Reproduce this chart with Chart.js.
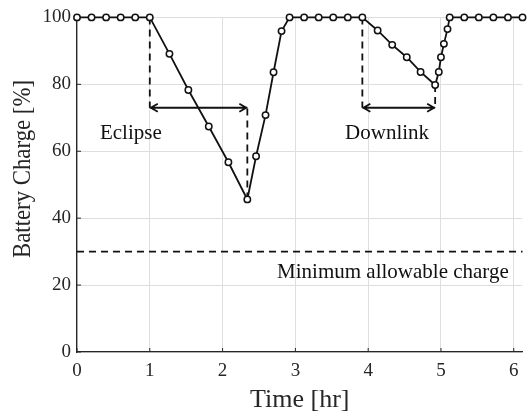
<!DOCTYPE html>
<html><head><meta charset="utf-8">
<script src="https://cdn.jsdelivr.net/npm/chart.js@4/dist/chart.umd.min.js"></script>
<style>html,body{margin:0;padding:0;background:#fff}#wrap{width:528px;height:415px}</style>
</head><body><div id="wrap"><canvas id="c" width="528" height="415"></canvas></div>
<script>
const timeHr = [0,0.2,0.4,0.6,0.8,1.0, 1.27,1.53,1.81,2.08,2.34, 2.46,2.59,2.70,2.81,2.92, 3.12,3.32,3.52,3.72,3.92, 4.13,4.33,4.53,4.72,4.92, 4.97,5.00,5.04,5.09,5.12, 5.32,5.52,5.72,5.92,6.12];
const chargePct = [100,100,100,100,100,100, 89.1,78.3,67.4,56.7,45.6, 58.5,70.8,83.6,95.9,100, 100,100,100,100,100, 96.1,91.8,88.1,83.7,79.8, 83.7,88.1,92.1,96.5,100, 100,100,100,100,100];
const xTickLabels = [0,1,2,3,4,5,6];
const yTickLabels = [0,20,40,60,80,100];
const minCharge = 30;
const eclipseSpan = [1.0, 2.34];
const downlinkSpan = [3.92, 4.92];
const spanLevel = 73;
const annotationTexts = [
  {text: 'Eclipse', x: 0.74, y: 65.3},
  {text: 'Downlink', x: 4.26, y: 65.3},
  {text: 'Minimum allowable charge', x: 4.34, y: 23.7}
];
const xTitle = 'Time [hr]';
const yTitle = 'Battery Charge [%]';

const FONT = '"Liberation Serif", "DejaVu Serif", serif';
const INK = '#111';

function chargeAt(t){
  const i = timeHr.indexOf(t);
  return chargePct[i];
}

const annot = {
  id: 'annot',
  beforeDatasetsDraw(chart){
    const {ctx, scales:{x, y}, chartArea:a} = chart;
    ctx.save();
    ctx.strokeStyle = INK;
    ctx.lineWidth = 1.8;
    ctx.setLineDash([7,5]);
    ctx.beginPath();
    ctx.moveTo(a.left, y.getPixelForValue(minCharge));
    ctx.lineTo(a.right, y.getPixelForValue(minCharge));
    ctx.stroke();
    [eclipseSpan, downlinkSpan].forEach(sp => {
      sp.forEach(t => {
        ctx.beginPath();
        ctx.moveTo(x.getPixelForValue(t), y.getPixelForValue(chargeAt(t)));
        ctx.lineTo(x.getPixelForValue(t), y.getPixelForValue(spanLevel));
        ctx.stroke();
      });
    });
    ctx.setLineDash([]);
    [eclipseSpan, downlinkSpan].forEach(sp => {
      const x0 = x.getPixelForValue(sp[0]), x1 = x.getPixelForValue(sp[1]);
      const yy = y.getPixelForValue(spanLevel);
      ctx.beginPath();
      ctx.moveTo(x0, yy); ctx.lineTo(x1, yy);
      ctx.moveTo(x0+8, yy-4); ctx.lineTo(x0+1, yy); ctx.lineTo(x0+8, yy+4);
      ctx.moveTo(x1-8, yy-4); ctx.lineTo(x1-1, yy); ctx.lineTo(x1-8, yy+4);
      ctx.stroke();
    });
    ctx.lineWidth = 1;
    ctx.strokeStyle = '#262626';
    x.ticks.forEach(tk => {
      const px = x.getPixelForValue(tk.value);
      ctx.beginPath(); ctx.moveTo(px, a.bottom); ctx.lineTo(px, a.bottom-4); ctx.stroke();
    });
    y.ticks.forEach(tk => {
      const py = y.getPixelForValue(tk.value);
      ctx.beginPath(); ctx.moveTo(a.left, py); ctx.lineTo(a.left+4, py); ctx.stroke();
    });
    ctx.fillStyle = INK;
    ctx.font = '21px ' + FONT;
    ctx.textAlign = 'center';
    ctx.textBaseline = 'middle';
    annotationTexts.forEach(t => {
      ctx.fillText(t.text, x.getPixelForValue(t.x), y.getPixelForValue(t.y));
    });
    ctx.restore();
  },
  afterDraw(chart){
    const {ctx, chartArea:a} = chart;
    ctx.save();
    ctx.fillStyle = '#262626';
    ctx.font = '26px ' + FONT;
    ctx.textAlign = 'center';
    ctx.textBaseline = 'middle';
    ctx.fillText(xTitle, (a.left + a.right)/2, 400);
    ctx.translate(23, 169);
    ctx.rotate(-Math.PI/2);
    ctx.fillText(yTitle, 0, 0, 178);
    ctx.restore();
  }
};

new Chart(document.getElementById('c'), {
  type: 'scatter',
  data: {
    datasets: [{
      data: timeHr.map((t,i) => ({x: t, y: chargePct[i]})),
      showLine: true,
      borderColor: INK,
      borderWidth: 1.8,
      pointRadius: 3.2,
      pointBorderWidth: 1.5,
      pointBackgroundColor: '#fff',
      pointBorderColor: INK,
      clip: false
    }]
  },
  options: {
    responsive: false,
    animation: false,
    devicePixelRatio: 1,
    layout: {padding: {top: 14, right: 3, left: 0, bottom: 0}},
    plugins: {legend: {display: false}, tooltip: {enabled: false}},
    scales: {
      x: {
        type: 'linear', min: 0, max: 6.12,
        afterBuildTicks(s){ s.ticks = xTickLabels.map(v => ({value: v})); },
        afterFit(s){ s.height = 63; },
        grid: {color: '#dedede', lineWidth: 1, drawTicks: false},
        border: {color: '#262626', width: 1.3},
        ticks: {font: {family: FONT, size: 19}, color: '#262626', padding: 8, maxRotation: 0},
        title: {display: false}
      },
      y: {
        min: 0, max: 100,
        afterBuildTicks(s){ s.ticks = yTickLabels.map(v => ({value: v})); },
        afterFit(s){ s.width = 77; },
        grid: {color: '#dedede', lineWidth: 1, drawTicks: false},
        border: {color: '#262626', width: 1.3},
        ticks: {font: {family: FONT, size: 19}, color: '#262626', padding: 6},
        title: {display: false}
      }
    }
  },
  plugins: [annot]
});
</script></body></html>
